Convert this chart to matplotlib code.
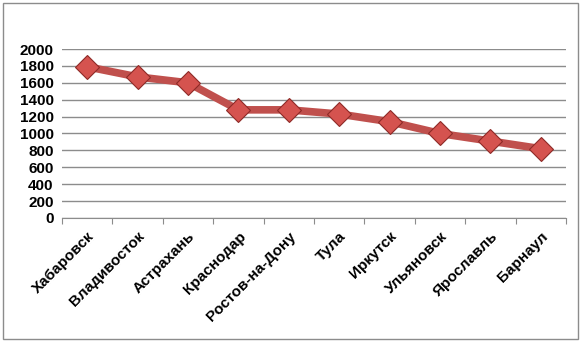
import matplotlib.pyplot as plt
from matplotlib.patches import Rectangle

cities = ['Хабаровск', 'Владивосток', 'Астрахань', 'Краснодар', 'Ростов-на-Дону',
          'Тула', 'Иркутск', 'Ульяновск', 'Ярославль', 'Барнаул']
values = [1790, 1670, 1600, 1280, 1280, 1230, 1140, 1000, 910, 820]
yticks = list(range(0, 2001, 200))

plt.rcParams['font.family'] = ['Liberation Sans', 'DejaVu Sans']

fig = plt.figure(figsize=(5.83, 3.42), dpi=100)
ax = fig.add_axes([0.1063, 0.3626, 0.8647, 0.4941])

x = list(range(len(cities)))
ax.plot(x, values, color='#C0504D', linewidth=5.5, solid_capstyle='round', zorder=3)
ax.plot(x, values, linestyle='none', marker='D', markersize=12.5,
        markerfacecolor='#D5534F', markeredgecolor='#8E2A27', markeredgewidth=0.8, zorder=4)

ax.set_xlim(-0.5, len(cities) - 0.5)
ax.set_ylim(0, 2000)
ax.set_yticks(yticks)
ax.set_yticklabels([str(v) for v in yticks], fontsize=11, fontweight='bold')
ax.tick_params(axis='y', length=0, pad=6)
ax.yaxis.grid(True, color='#8c8c8c', linewidth=1)
ax.set_axisbelow(True)

# category boundary ticks, labels sit on minor ticks in the middle
ax.set_xticks([i - 0.5 for i in range(len(cities) + 1)], minor=False)
ax.set_xticklabels([])
ax.tick_params(axis='x', which='major', length=4, color='#8c8c8c', direction='out')
ax.set_xticks(x, minor=True)
ax.set_xticklabels(cities, minor=True, rotation=45, ha='right', rotation_mode='anchor',
                   fontsize=11, fontweight='bold')
ax.tick_params(axis='x', which='minor', length=0, pad=8)

for s in ['top', 'right', 'left']:
    ax.spines[s].set_visible(False)
ax.spines['bottom'].set_color('#8c8c8c')

fig.patches.append(Rectangle((0.006, 0.01), 0.986, 0.98, transform=fig.transFigure,
                             fill=False, edgecolor='#8c8c8c', linewidth=1))

fig.savefig('out.png', dpi=100)
